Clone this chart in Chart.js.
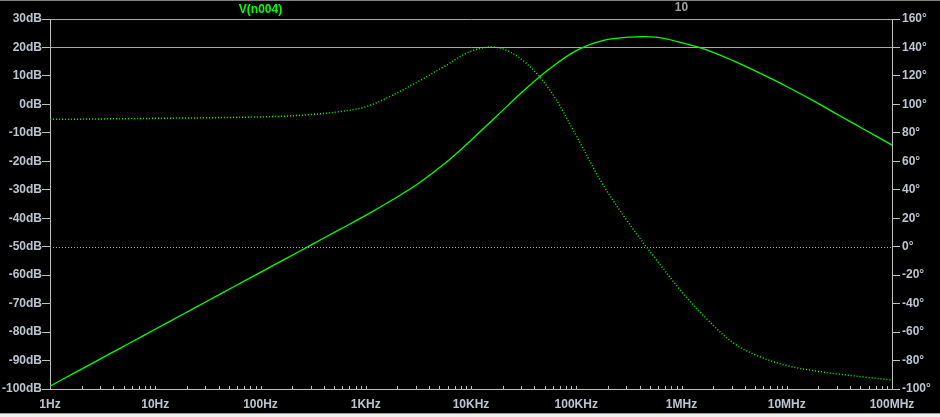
<!DOCTYPE html>
<html>
<head>
<meta charset="utf-8">
<script src="https://cdn.jsdelivr.net/npm/chart.js@4.4.0/dist/chart.umd.min.js"></script>
<style>
  html, body { margin: 0; padding: 0; background: #000; }
  #wrap { width: 940px; height: 417px; position: relative; }
</style>
</head>
<body>
<div id="wrap"><canvas id="bode"></canvas></div>
<script>
// AC sweep of V(n004) - magnitude (solid) and phase (dotted), quarter-decade readings
const freqs = [1, 1.78, 3.16, 5.62, 10, 17.8, 31.6, 56.2, 100, 178, 316, 562,
  1000, 1780, 3160, 5620, 10000, 17800, 31600, 56200, 100000, 178000, 316000, 562000,
  1000000, 1780000, 3160000, 5620000, 10000000, 17800000, 31600000, 56200000, 100000000];
const magDb = [-99, -94, -89, -84, -79, -74, -69, -64, -59, -54, -49, -44,
  -39, -33.6, -27.8, -20.8, -12.6, -3.9, 4.8, 12.6, 18.9, 22.4, 23.6, 23.6,
  21.7, 19.0, 15.2, 10.9, 6.3, 1.3, -3.9, -9.1, -14.3];
const phaseDeg = [89.5, 89.6, 89.8, 90, 90.2, 90.4, 90.6, 90.9, 91.2, 91.8, 93, 94.9,
  98.3, 106.3, 116.2, 126.8, 137.3, 140.0, 130.5, 110, 78, 44, 16.5, -8,
  -31.5, -51.5, -68, -77.5, -83.5, -87.1, -89.6, -91.7, -93.7];

const freqTicks = [1, 10, 100, 1000, 10000, 100000, 1000000, 10000000, 100000000];
const freqLabels = ['1Hz', '10Hz', '100Hz', '1KHz', '10KHz', '100KHz', '1MHz', '10MHz', '100MHz'];
const dbTicks = [30, 20, 10, 0, -10, -20, -30, -40, -50, -60, -70, -80, -90, -100];
const degTicks = [160, 140, 120, 100, 80, 60, 40, 20, 0, -20, -40, -60, -80, -100];

const traceName = 'V(n004)';
const stepName = '10';

const axisText = '#bcc4d0';
const axisLine = '#c0c0c0';
const trace = '#00ff00';
const tickFont = { family: 'Liberation Sans', size: 12, weight: 'bold' };

Chart.defaults.font.family = 'Liberation Sans';

// minor tick positions 1..9 per decade
const logTicks = [];
for (let i = 0; i < freqTicks.length - 1; i++) {
  for (let m = 1; m <= 9; m++) logTicks.push(freqTicks[i] * m);
}
logTicks.push(freqTicks[freqTicks.length - 1]);

const decor = {
  id: 'decor',
  beforeDraw(chart) {
    const ctx = chart.ctx;
    ctx.save();
    ctx.fillStyle = '#000';
    ctx.fillRect(0, 0, chart.width, chart.height);
    ctx.fillStyle = '#808080';
    ctx.fillRect(0, 0, chart.width, 1);
    ctx.fillStyle = '#a0a0a0';
    ctx.fillRect(0, 413, chart.width, 1);
    ctx.fillStyle = '#f0f0f0';
    ctx.fillRect(0, 414, chart.width, 3);
    ctx.restore();
  },
  beforeDatasetsDraw(chart) {
    const ctx = chart.ctx;
    const area = chart.chartArea;
    const x = chart.scales.x;
    const y2 = chart.scales.y2;
    ctx.save();
    // dotted 0 degree line
    const y0 = Math.round(y2.getPixelForValue(0)) + 0.5;
    ctx.strokeStyle = '#a8a8a8';
    ctx.lineWidth = 1;
    ctx.setLineDash([1, 2]);
    ctx.beginPath();
    ctx.moveTo(area.left, y0);
    ctx.lineTo(area.right, y0);
    ctx.stroke();
    // inward ticks on the frequency axis
    ctx.setLineDash([]);
    ctx.strokeStyle = axisLine;
    ctx.beginPath();
    logTicks.forEach(v => {
      const px = Math.round(x.getPixelForValue(v)) + 0.5;
      ctx.moveTo(px, area.bottom);
      ctx.lineTo(px, area.bottom - 3);
    });
    ctx.stroke();
    ctx.restore();
  },
  afterDraw(chart) {
    const ctx = chart.ctx;
    const area = chart.chartArea;
    ctx.save();
    ctx.font = 'bold 12px "Liberation Sans"';
    ctx.textAlign = 'center';
    ctx.textBaseline = 'middle';
    ctx.fillStyle = trace;
    ctx.fillText(traceName, area.left + (area.right - area.left) * 0.25, 10);
    ctx.fillStyle = '#a0a0a0';
    ctx.fillText(stepName, area.left + (area.right - area.left) * 0.75, 8);
    ctx.restore();
  }
};

new Chart(document.getElementById('bode'), {
  type: 'line',
  data: {
    datasets: [{
      label: traceName,
      data: freqs.map((f, i) => ({ x: f, y: magDb[i] })),
      yAxisID: 'y',
      borderColor: trace,
      borderWidth: 1.3,
      pointRadius: 0,
      tension: 0.35,
      fill: false
    }, {
      label: traceName + ' phase',
      data: freqs.map((f, i) => ({ x: f, y: phaseDeg[i] })),
      yAxisID: 'y2',
      borderColor: trace,
      borderWidth: 1.5,
      borderDash: [1, 2],
      pointRadius: 0,
      tension: 0.35,
      fill: false
    }]
  },
  options: {
    responsive: true,
    maintainAspectRatio: false,
    animation: false,
    devicePixelRatio: 1,
    layout: { padding: { top: 19, left: 0, right: 0, bottom: 0 } },
    plugins: {
      legend: { display: false },
      tooltip: { enabled: false }
    },
    scales: {
      x: {
        type: 'logarithmic',
        position: 'bottom',
        min: 1,
        max: 100000000,
        afterBuildTicks: s => { s.ticks = logTicks.map(v => ({ value: v })); },
        afterFit: s => { s.height = 28; },
        ticks: {
          autoSkip: false,
          maxRotation: 0,
          padding: 8,
          color: axisText,
          font: tickFont,
          callback: v => {
            const i = freqTicks.indexOf(v);
            return i >= 0 ? freqLabels[i] : '';
          }
        },
        grid: { drawOnChartArea: false, drawTicks: false },
        border: { color: axisLine }
      },
      y: {
        type: 'linear',
        position: 'left',
        min: -100,
        max: 30,
        afterBuildTicks: s => { s.ticks = dbTicks.map(v => ({ value: v })); },
        afterFit: s => { s.width = 50; },
        ticks: {
          padding: 0,
          color: axisText,
          font: tickFont,
          callback: v => v + 'dB'
        },
        grid: {
          color: c => (c.tick && (c.tick.value === 20 || c.tick.value === 30)) ? '#a8a8a8' : 'rgba(0,0,0,0)',
          tickColor: axisLine,
          tickLength: 8
        },
        border: { color: axisLine }
      },
      y2: {
        type: 'linear',
        position: 'right',
        min: -100,
        max: 160,
        afterBuildTicks: s => { s.ticks = degTicks.map(v => ({ value: v })); },
        afterFit: s => { s.width = 48; },
        ticks: {
          padding: 2,
          color: axisText,
          font: tickFont,
          callback: v => v + '°'
        },
        grid: { drawOnChartArea: false, tickColor: axisLine, tickLength: 8 },
        border: { color: axisLine }
      }
    }
  },
  plugins: [decor]
});
</script>
</body>
</html>
